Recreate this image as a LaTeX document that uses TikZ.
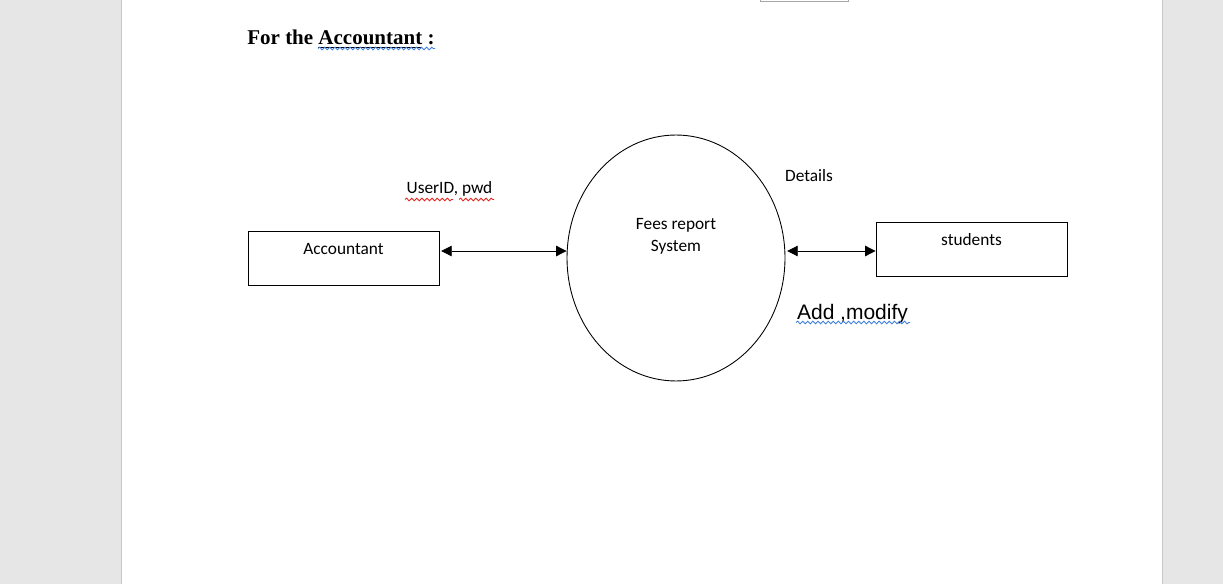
\documentclass[tikz,border=0pt]{standalone}
\usepackage{fontspec}
\setmainfont{Liberation Serif}
\newfontfamily\calib{Carlito}
\newfontfamily\arialf{Liberation Sans}
\usepackage{tikz}
\usetikzlibrary{shapes.geometric,arrows.meta,decorations.pathmorphing}
\definecolor{pagegray}{HTML}{E6E6E6}
\definecolor{edgegray}{HTML}{C8C8C8}
\definecolor{spellred}{HTML}{E0261E}
\definecolor{spellblue}{HTML}{3F7FDD}
\tikzstyle{box}=[draw,line width=0.5pt,minimum width=3.82cm,minimum height=1.08cm,inner ysep=0pt,text height=0.47cm,text depth=0.61cm,font=\calib\fontsize{9.85pt}{12pt}\selectfont]
\tikzstyle{bubble}=[draw,ellipse,line width=0.5pt,inner sep=0pt,minimum width=4.36cm,minimum height=4.92cm]
\tikzstyle{lbl}=[inner sep=0pt,anchor=base,font=\calib\fontsize{9.85pt}{12.5pt}\selectfont]
\tikzstyle{both}=[{Triangle[length=6pt,width=6pt]}-{Triangle[length=6pt,width=6pt]},line width=0.5pt,shorten <=1pt]
\tikzstyle{wavy}=[line width=0.5pt,decorate,decoration={snake,amplitude=0.75pt,segment length=2.9pt}]

\begin{document}
\begin{tikzpicture}[x=0.02cm,y=-0.02cm]
            \useasboundingbox (0,0) rectangle (1223,584);
            % page
            \fill[pagegray] (0,0) rectangle (1223,584);
            \draw[edgegray,fill=white] (121.5,-2) rectangle (1162.5,586);
            \draw[gray!70] (760,-5) rectangle (848,1.5);
            % heading
            \node[inner sep=0pt,anchor=base west,font=\bfseries\fontsize{11.95pt}{14pt}\selectfont] (head) at (247,45) {For the \underline{Accountant} :};
            \draw[wavy,spellblue] (318,48.5) -- (435,48.5);
            % diagram
            \node[box] (acc) at (343.5,258) {Accountant};
            \node[bubble] (sys) at (676,258) {};
            \node[box] (stu) at (971.5,249) {students};
            \node[lbl,align=center] (sysname) at (676,251.5) {Fees report\\System};
            \draw[both] ([yshift=0.14cm]acc.east) -- ([yshift=0.14cm]sys.west);
            \draw[both] ([yshift=0.14cm]sys.east) -- ([yshift=0.14cm]sys.east -| stu.west);
            \node[lbl] (uid) at (449.5,194) {UserID, pwd};
            \draw[wavy,spellred] (405,199.5) -- (453,199.5);
            \draw[wavy,spellred] (459,199.5) -- (494,199.5);
            \node[lbl] (det) at (809,181.5) {Details};
            \node[lbl,font=\arialf\fontsize{11.95pt}{14pt}\selectfont] (addmod) at (852.5,319) {Add ,modify};
            \draw[wavy,spellblue] (796,322.5) -- (910,322.5);
        \end{tikzpicture}
\end{document}
